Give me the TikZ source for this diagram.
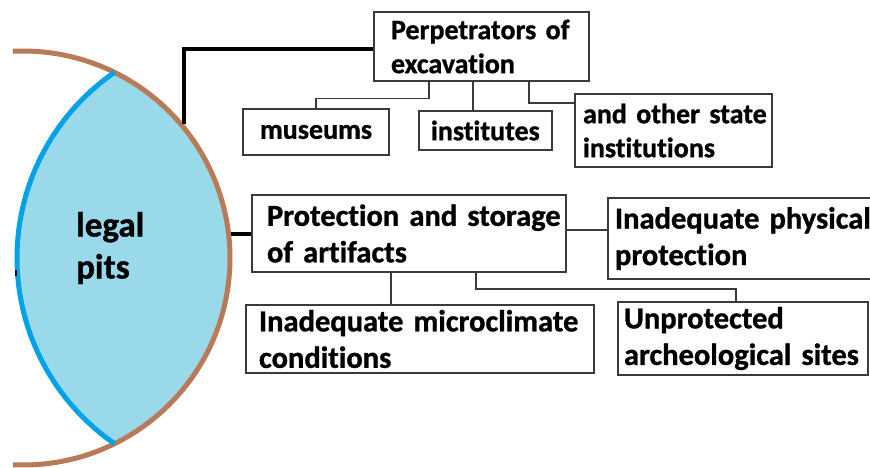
\documentclass[tikz,border=0pt]{standalone}
\usepackage{fontspec}
\setmainfont{Carlito}[Ligatures={NoCommon,NoRare,NoContextual}, BoldFeatures={FakeBold=1}]
\definecolor{arcbrown}{HTML}{B97A57}
\definecolor{arcblue}{HTML}{00A2E8}
\definecolor{lensfill}{HTML}{99D9EA}
\definecolor{boxgray}{HTML}{3A3A3A}
\begin{document}
\begin{tikzpicture}[x=1pt,y=-1pt,
  boxbase/.style={draw=boxgray, line width=1.5pt, fill=white, inner ysep=0pt, align=left, text=black},
  topbox/.style={boxbase, font={\bfseries\fontsize{28}{34}\selectfont\spaceskip=0.225em\relax}},
  lowbox/.style={boxbase, font={\bfseries\fontsize{30.5}{36.5}\selectfont\spaceskip=0.225em\relax}},
  thinline/.style={draw=boxgray, line width=1.5pt},
  thickline/.style={draw=black, line width=4pt}]
\useasboundingbox (0,0) rectangle (870,468);
% lens
\begin{scope}
  \clip (23,258) circle[radius=207];
  \fill[lensfill] (242.5,258) circle[radius=225.5];
\end{scope}
\draw[arcbrown, line width=5pt] (23,258) ++(92.8:207) arc[start angle=92.8, end angle=-92.8, radius=207];
\draw[arcblue, line width=5pt] (242.5,258) ++(124.6:225.5) arc[start angle=124.6, end angle=235.4, radius=225.5];
\fill[black] (14.5,270) rectangle (16.5,276);
\node[font=\bfseries\fontsize{35}{42}\selectfont, align=left, anchor=west, inner sep=0pt] (legal) at (76,248) {legal\\pits};
% boxes
\node[topbox, minimum width=215, minimum height=69, inner xsep=17pt, text width=181pt] (perp) at (481.5,46.5) {\mbox{Perpetrators of}\\excavation};
\node[topbox, minimum width=146, minimum height=46, inner xsep=17pt, text width=112pt] (mus) at (316,132) {museums};
\node[topbox, minimum width=133, minimum height=39, inner xsep=12pt, text width=109pt] (inst) at (485.5,130.5) {institutes};
\node[topbox, minimum width=197, minimum height=73, inner xsep=8pt, text width=181pt] (other) at (673.5,130.5) {\mbox{and other state}\\institutions};
\node[lowbox, minimum width=314, minimum height=77, inner xsep=15pt, text width=284pt] (prot) at (409,233.5) {\mbox{Protection and storage}\\of artifacts};
\node[lowbox, minimum width=272, minimum height=81, inner xsep=7pt, text width=258pt] (phys) at (744,238.5) {\mbox{Inadequate physical}\\protection};
\node[lowbox, minimum width=348, minimum height=68, inner xsep=13pt, text width=322pt] (micro) at (420,339) {\mbox{Inadequate microclimate}\\conditions};
\node[lowbox, minimum width=250, minimum height=73, inner xsep=6pt, text width=238pt] (unprot) at (743,338.5) {\mbox{Unprotected}\\\mbox{archeological sites}};
% connector ends on the circle
\coordinate (c1) at (184,124);
\coordinate (c2) at (231,233.5);
% thick connectors
\draw[thickline] ([yshift=-2.5pt]perp.west) -| (c1);
\draw[thickline] (prot.west) -- (c2);
% thin connectors
\draw[thinline] ([xshift=-52.5pt]perp.south) -- ++(0,17) -| (mus.north);
\draw[thinline] ([xshift=-8.5pt]perp.south) -- ([xshift=-12.5pt]inst.north);
\draw[thinline] ([xshift=47.5pt]perp.south) |- ([yshift=27.5pt]other.west);
\draw[thinline] ([yshift=3.5pt]prot.east) -- ([yshift=8.5pt]phys.west);
\draw[thinline] ([xshift=-18pt]prot.south) -- ([xshift=-29pt]micro.north);
\draw[thinline] ([xshift=67pt]prot.south) -- ++(0,16) -| ([xshift=-7pt]unprot.north);
\end{tikzpicture}
\end{document}
